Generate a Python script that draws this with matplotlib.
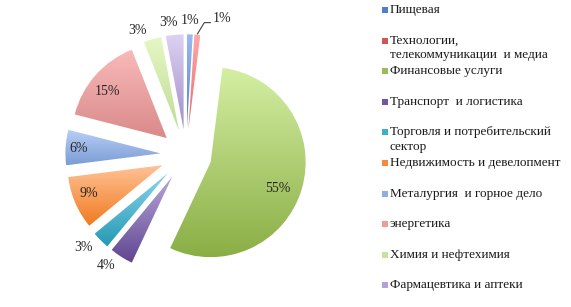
import numpy as np
import matplotlib
matplotlib.use("Agg")
import matplotlib.pyplot as plt
from matplotlib.colors import LinearSegmentedColormap

categories = ["Пищевая", "Технологии,\nтелекоммуникации  и медиа", "Финансовые услуги",
              "Транспорт  и логистика", "Торговля и потребительский\nсектор",
              "Недвижимость и девелопмент", "Металургия  и горное дело", "энергетика",
              "Химия и нефтехимия", "Фармацевтика и аптеки"]
values = [1, 1, 55, 4, 3, 9, 6, 15, 3, 3]
pct_labels = [f"{v}%" for v in values]

grad_top = ['#9DBBEF', '#FFA8A8', '#D4EFA3', '#B6A6D9', '#8AD6EC',
            '#FFC297', '#B9D0F6', '#F9BABA', '#E6F7C6', '#DDD2F2']
grad_bot = ['#4F7FCB', '#E46C6C', '#8AAE45', '#5F4590', '#2799B4',
            '#F07A1E', '#7C9CD5', '#D98A89', '#BEDC94', '#A18ECB']
legend_cols = ['#4F7FCB', '#D05555', '#9BBB59', '#7058A0', '#3FB0CC',
               '#F68A3A', '#8DAEE5', '#F09A98', '#C5E3A0', '#B3A2D7']
label_dist = [1.15, 1.22, 0.76, 1.17, 1.19, 0.83, 0.86, 0.80, 1.14, 1.14]
label_shift = [0, -11.6, -5.6, -4.2, -3.6, -2, 0, 3.2, 6, 2.6]

FONT = 'Liberation Serif'
FS = 9.5
FS_PCT = 10

W, H = 571, 307
fig = plt.figure(figsize=(W / 100, H / 100), dpi=100)
ax = fig.add_axes([0, 0, 1, 1])

R = 95
EXPLODE = 0.27
cx, cy = 186, H - 155
wedges, _ = ax.pie(values, startangle=90, counterclock=False,
                   explode=[EXPLODE * R] * len(values),
                   radius=R, center=(cx, cy), colors=['none'] * len(values),
                   wedgeprops=dict(linewidth=0, edgecolor='none'))

grad = np.linspace(0, 1, 256).reshape(-1, 1)
for i, w in enumerate(wedges):
    bb = w.get_path().transformed(w.get_patch_transform()).get_extents()
    cmap = LinearSegmentedColormap.from_list(f"g{i}", [grad_top[i], grad_bot[i]])
    im = ax.imshow(grad, cmap=cmap, extent=[bb.x0, bb.x1, bb.y0, bb.y1], origin='upper',
                   aspect='auto', interpolation='bilinear', zorder=2)
    im.set_clip_path(w)

    th = np.deg2rad((w.theta1 + w.theta2) / 2 + label_shift[i])
    wx, wy = w.center
    lx = wx + label_dist[i] * R * np.cos(th)
    ly = wy + label_dist[i] * R * np.sin(th)
    ax.text(lx, ly, pct_labels[i], ha='center', va='center', fontsize=FS_PCT,
            family=FONT, color='#262626', zorder=5)
    if i == 1:
        thm = np.deg2rad((w.theta1 + w.theta2) / 2)
        sx = wx + 1.01 * R * np.cos(thm)
        sy = wy + 1.01 * R * np.sin(thm)
        ex, ey = lx - 12, ly - 4
        ax.plot([sx, ex - 6, ex], [sy, ey, ey], color='#404040', lw=0.8, zorder=4)

ax.set_xlim(0, W)
ax.set_ylim(0, H)
ax.set_aspect('equal')
ax.axis('off')

# legend
ly0 = 10
step = 30.6
for i, (cat, col) in enumerate(zip(categories, legend_cols)):
    y = ly0 + i * step
    ax.add_patch(plt.Rectangle((382, H - y - 3), 6, 6, facecolor=col, edgecolor='none'))
    for k, line in enumerate(cat.split("\n")):
        ax.text(390, H - (y + k * 14.5), line, ha='left', va='center', fontsize=FS,
                family=FONT, color='#1a1a1a')

fig.savefig("out.png", dpi=100)
